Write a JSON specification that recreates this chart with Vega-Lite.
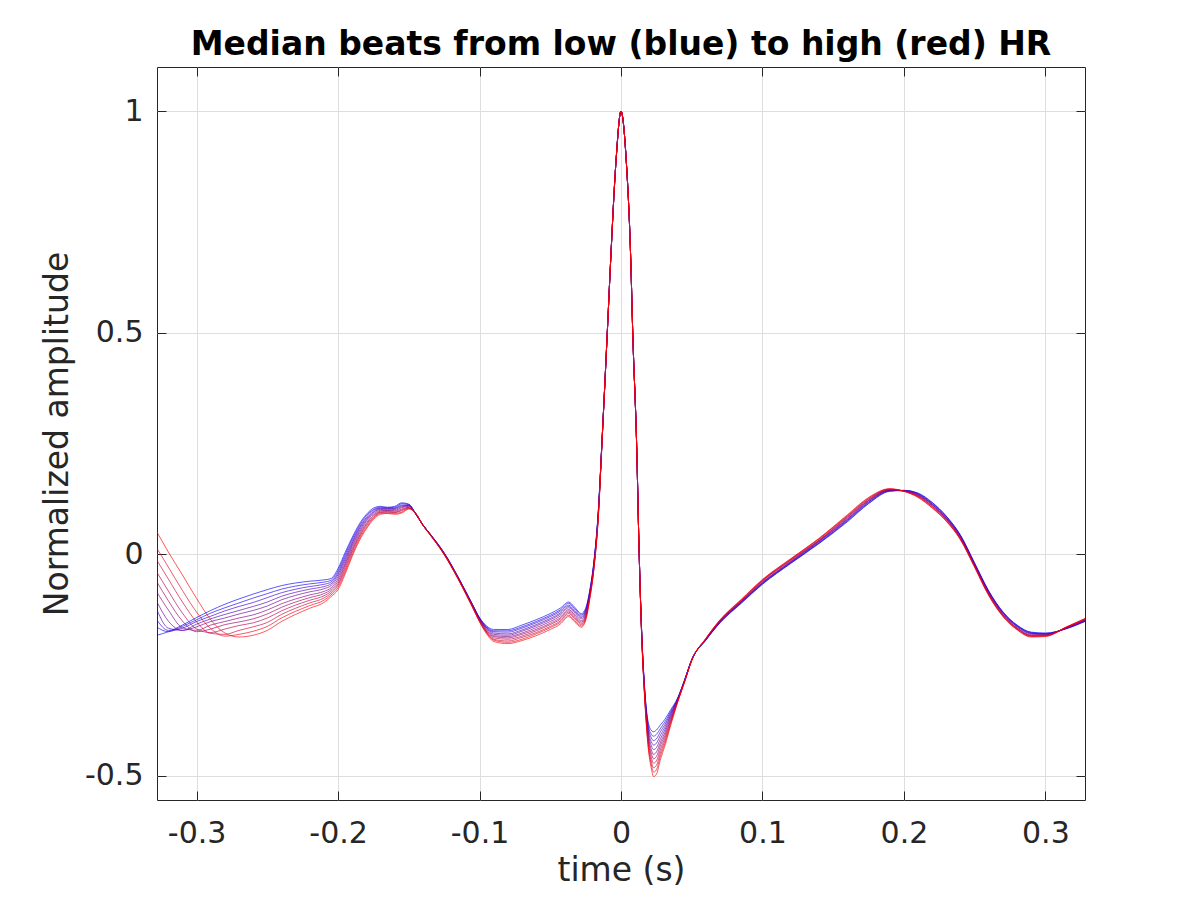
{
  "$schema": "https://vega.github.io/schema/vega-lite/v6.json",
  "width": 928,
  "height": 733,
  "autosize": {"type": "none"},
  "padding": {"left": 157, "top": 67, "right": 115, "bottom": 100},
  "background": "white",
  "title": {
    "text": "Median beats from low (blue) to high (red) HR",
    "font": "DejaVu Sans",
    "fontSize": 33,
    "fontWeight": "bold",
    "color": "#000000",
    "baseline": "alphabetic",
    "offset": 11,
    "dy": 32
  },
  "data": {
    "values": [
      {"c":0,"t":-0.328,"v":-0.183},{"c":0,"t":-0.32,"v":-0.175},{"c":0,"t":-0.31,"v":-0.160},{"c":0,"t":-0.3,"v":-0.143},{"c":0,"t":-0.29,"v":-0.127},{"c":0,"t":-0.28,"v":-0.113},{"c":0,"t":-0.27,"v":-0.101},{"c":0,"t":-0.26,"v":-0.090},{"c":0,"t":-0.25,"v":-0.080},{"c":0,"t":-0.24,"v":-0.071},{"c":0,"t":-0.23,"v":-0.065},{"c":0,"t":-0.22,"v":-0.061},{"c":0,"t":-0.21,"v":-0.058},{"c":0,"t":-0.205,"v":-0.055},
      {"c":0,"t":-0.2,"v":-0.032},{"c":0,"t":-0.195,"v":0.004},{"c":0,"t":-0.19,"v":0.038},{"c":0,"t":-0.185,"v":0.068},{"c":0,"t":-0.18,"v":0.090},{"c":0,"t":-0.175,"v":0.104},{"c":0,"t":-0.17,"v":0.108},{"c":0,"t":-0.165,"v":0.106},{"c":0,"t":-0.16,"v":0.108},{"c":0,"t":-0.155,"v":0.116},{"c":0,"t":-0.15,"v":0.113},{"c":0,"t":-0.145,"v":0.090},{"c":0,"t":-0.14,"v":0.066},
      {"c":0,"t":-0.135,"v":0.046},{"c":0,"t":-0.125,"v":0.003},{"c":0,"t":-0.115,"v":-0.052},{"c":0,"t":-0.105,"v":-0.113},{"c":0,"t":-0.1,"v":-0.143},{"c":0,"t":-0.095,"v":-0.162},{"c":0,"t":-0.09,"v":-0.170},{"c":0,"t":-0.08,"v":-0.170},
      {"c":0,"t":-0.07,"v":-0.160},{"c":0,"t":-0.06,"v":-0.148},{"c":0,"t":-0.05,"v":-0.134},{"c":0,"t":-0.043,"v":-0.122},{"c":0,"t":-0.037,"v":-0.108},{"c":0,"t":-0.033,"v":-0.119},{"c":0,"t":-0.028,"v":-0.134},{"c":0,"t":-0.025,"v":-0.122},{"c":0,"t":-0.022,"v":-0.080},{"c":0,"t":-0.019,"v":-0.012},
      {"c":0,"t":-0.016,"v":0.100},{"c":0,"t":-0.0136,"v":0.245},{"c":0,"t":-0.0097,"v":0.5},{"c":0,"t":-0.0073,"v":0.664},{"c":0,"t":-0.0035,"v":0.889},{"c":0,"t":0,"v":1},{"c":0,"t":0.0037,"v":0.889},{"c":0,"t":0.0069,"v":0.664},{"c":0,"t":0.0083,"v":0.5},{"c":0,"t":0.0111,"v":0.242},{"c":0,"t":0.0127,"v":0.02},{"c":0,"t":0.0145,"v":-0.165},{"c":0,"t":0.0165,"v":-0.292},{"c":0,"t":0.019,"v":-0.375},{"c":0,"t":0.0215,"v":-0.398},{"c":0,"t":0.023,"v":-0.401},{"c":0,"t":0.025,"v":-0.397},{"c":0,"t":0.028,"v":-0.385},{"c":0,"t":0.031,"v":-0.373},{"c":0,"t":0.035,"v":-0.352},{"c":0,"t":0.04,"v":-0.325},{"c":0,"t":0.045,"v":-0.283},
      {"c":0,"t":0.05,"v":-0.238},{"c":0,"t":0.06,"v":-0.194},{"c":0,"t":0.07,"v":-0.155},{"c":0,"t":0.085,"v":-0.111},{"c":0,"t":0.1,"v":-0.068},{"c":0,"t":0.12,"v":-0.021},{"c":0,"t":0.14,"v":0.024},{"c":0,"t":0.16,"v":0.073},{"c":0,"t":0.175,"v":0.114},{"c":0,"t":0.19,"v":0.142},{"c":0,"t":0.2,"v":0.144},{"c":0,"t":0.21,"v":0.138},{"c":0,"t":0.22,"v":0.117},{"c":0,"t":0.23,"v":0.086},{"c":0,"t":0.24,"v":0.043},{"c":0,"t":0.25,"v":-0.020},{"c":0,"t":0.26,"v":-0.083},{"c":0,"t":0.27,"v":-0.130},{"c":0,"t":0.28,"v":-0.160},{"c":0,"t":0.29,"v":-0.176},{"c":0,"t":0.3,"v":-0.178},{"c":0,"t":0.315,"v":-0.168},{"c":0,"t":0.328,"v":-0.152},

      {"c":1,"t":-0.328,"v":-0.165},{"c":1,"t":-0.32,"v":-0.175},{"c":1,"t":-0.31,"v":-0.163},{"c":1,"t":-0.3,"v":-0.148},{"c":1,"t":-0.29,"v":-0.133},{"c":1,"t":-0.28,"v":-0.121},{"c":1,"t":-0.27,"v":-0.110},{"c":1,"t":-0.26,"v":-0.099},{"c":1,"t":-0.25,"v":-0.089},{"c":1,"t":-0.24,"v":-0.079},{"c":1,"t":-0.23,"v":-0.072},{"c":1,"t":-0.22,"v":-0.067},{"c":1,"t":-0.21,"v":-0.063},{"c":1,"t":-0.205,"v":-0.059},
      {"c":1,"t":-0.2,"v":-0.037},{"c":1,"t":-0.195,"v":-0.001},{"c":1,"t":-0.19,"v":0.034},{"c":1,"t":-0.185,"v":0.064},{"c":1,"t":-0.18,"v":0.087},{"c":1,"t":-0.175,"v":0.101},{"c":1,"t":-0.17,"v":0.106},{"c":1,"t":-0.165,"v":0.105},{"c":1,"t":-0.16,"v":0.106},{"c":1,"t":-0.155,"v":0.114},{"c":1,"t":-0.15,"v":0.112},{"c":1,"t":-0.145,"v":0.090},{"c":1,"t":-0.14,"v":0.066},
      {"c":1,"t":-0.135,"v":0.046},{"c":1,"t":-0.125,"v":0.003},{"c":1,"t":-0.115,"v":-0.053},{"c":1,"t":-0.105,"v":-0.114},{"c":1,"t":-0.1,"v":-0.144},{"c":1,"t":-0.095,"v":-0.164},{"c":1,"t":-0.09,"v":-0.173},{"c":1,"t":-0.08,"v":-0.173},
      {"c":1,"t":-0.07,"v":-0.164},{"c":1,"t":-0.06,"v":-0.152},{"c":1,"t":-0.05,"v":-0.138},{"c":1,"t":-0.043,"v":-0.126},{"c":1,"t":-0.037,"v":-0.111},{"c":1,"t":-0.033,"v":-0.122},{"c":1,"t":-0.028,"v":-0.137},{"c":1,"t":-0.025,"v":-0.125},{"c":1,"t":-0.022,"v":-0.082},{"c":1,"t":-0.019,"v":-0.014},
      {"c":1,"t":-0.016,"v":0.099},{"c":1,"t":-0.0136,"v":0.245},{"c":1,"t":-0.0097,"v":0.5},{"c":1,"t":-0.0073,"v":0.664},{"c":1,"t":-0.0035,"v":0.889},{"c":1,"t":0,"v":1},{"c":1,"t":0.0037,"v":0.889},{"c":1,"t":0.0069,"v":0.664},{"c":1,"t":0.0083,"v":0.5},{"c":1,"t":0.0111,"v":0.242},{"c":1,"t":0.0127,"v":0.02},{"c":1,"t":0.0145,"v":-0.166},{"c":1,"t":0.0165,"v":-0.294},{"c":1,"t":0.019,"v":-0.381},{"c":1,"t":0.0215,"v":-0.407},{"c":1,"t":0.023,"v":-0.411},{"c":1,"t":0.025,"v":-0.407},{"c":1,"t":0.028,"v":-0.393},{"c":1,"t":0.031,"v":-0.379},{"c":1,"t":0.035,"v":-0.356},{"c":1,"t":0.04,"v":-0.326},{"c":1,"t":0.045,"v":-0.284},
      {"c":1,"t":0.05,"v":-0.238},{"c":1,"t":0.06,"v":-0.194},{"c":1,"t":0.07,"v":-0.154},{"c":1,"t":0.085,"v":-0.110},{"c":1,"t":0.1,"v":-0.067},{"c":1,"t":0.12,"v":-0.020},{"c":1,"t":0.14,"v":0.025},{"c":1,"t":0.16,"v":0.075},{"c":1,"t":0.175,"v":0.115},{"c":1,"t":0.19,"v":0.143},{"c":1,"t":0.2,"v":0.144},{"c":1,"t":0.21,"v":0.137},{"c":1,"t":0.22,"v":0.116},{"c":1,"t":0.23,"v":0.085},{"c":1,"t":0.24,"v":0.042},{"c":1,"t":0.25,"v":-0.021},{"c":1,"t":0.26,"v":-0.084},{"c":1,"t":0.27,"v":-0.131},{"c":1,"t":0.28,"v":-0.161},{"c":1,"t":0.29,"v":-0.177},{"c":1,"t":0.3,"v":-0.179},{"c":1,"t":0.315,"v":-0.168},{"c":1,"t":0.328,"v":-0.151},

      {"c":2,"t":-0.328,"v":-0.149},{"c":2,"t":-0.32,"v":-0.172},{"c":2,"t":-0.31,"v":-0.167},{"c":2,"t":-0.3,"v":-0.152},{"c":2,"t":-0.29,"v":-0.140},{"c":2,"t":-0.28,"v":-0.128},{"c":2,"t":-0.27,"v":-0.118},{"c":2,"t":-0.26,"v":-0.109},{"c":2,"t":-0.25,"v":-0.098},{"c":2,"t":-0.24,"v":-0.087},{"c":2,"t":-0.23,"v":-0.079},{"c":2,"t":-0.22,"v":-0.073},{"c":2,"t":-0.21,"v":-0.068},{"c":2,"t":-0.205,"v":-0.063},
      {"c":2,"t":-0.2,"v":-0.042},{"c":2,"t":-0.195,"v":-0.006},{"c":2,"t":-0.19,"v":0.029},{"c":2,"t":-0.185,"v":0.060},{"c":2,"t":-0.18,"v":0.083},{"c":2,"t":-0.175,"v":0.099},{"c":2,"t":-0.17,"v":0.104},{"c":2,"t":-0.165,"v":0.103},{"c":2,"t":-0.16,"v":0.104},{"c":2,"t":-0.155,"v":0.111},{"c":2,"t":-0.15,"v":0.111},{"c":2,"t":-0.145,"v":0.090},{"c":2,"t":-0.14,"v":0.066},
      {"c":2,"t":-0.135,"v":0.046},{"c":2,"t":-0.125,"v":0.002},{"c":2,"t":-0.115,"v":-0.053},{"c":2,"t":-0.105,"v":-0.114},{"c":2,"t":-0.1,"v":-0.145},{"c":2,"t":-0.095,"v":-0.166},{"c":2,"t":-0.09,"v":-0.175},{"c":2,"t":-0.08,"v":-0.176},
      {"c":2,"t":-0.07,"v":-0.167},{"c":2,"t":-0.06,"v":-0.155},{"c":2,"t":-0.05,"v":-0.141},{"c":2,"t":-0.043,"v":-0.129},{"c":2,"t":-0.037,"v":-0.115},{"c":2,"t":-0.033,"v":-0.126},{"c":2,"t":-0.028,"v":-0.140},{"c":2,"t":-0.025,"v":-0.128},{"c":2,"t":-0.022,"v":-0.084},{"c":2,"t":-0.019,"v":-0.016},
      {"c":2,"t":-0.016,"v":0.097},{"c":2,"t":-0.0136,"v":0.244},{"c":2,"t":-0.0097,"v":0.5},{"c":2,"t":-0.0073,"v":0.664},{"c":2,"t":-0.0035,"v":0.889},{"c":2,"t":0,"v":1},{"c":2,"t":0.0037,"v":0.889},{"c":2,"t":0.0069,"v":0.664},{"c":2,"t":0.0083,"v":0.5},{"c":2,"t":0.0111,"v":0.242},{"c":2,"t":0.0127,"v":0.02},{"c":2,"t":0.0145,"v":-0.167},{"c":2,"t":0.0165,"v":-0.296},{"c":2,"t":0.019,"v":-0.386},{"c":2,"t":0.0215,"v":-0.415},{"c":2,"t":0.023,"v":-0.421},{"c":2,"t":0.025,"v":-0.417},{"c":2,"t":0.028,"v":-0.400},{"c":2,"t":0.031,"v":-0.385},{"c":2,"t":0.035,"v":-0.359},{"c":2,"t":0.04,"v":-0.327},{"c":2,"t":0.045,"v":-0.284},
      {"c":2,"t":0.05,"v":-0.238},{"c":2,"t":0.06,"v":-0.193},{"c":2,"t":0.07,"v":-0.154},{"c":2,"t":0.085,"v":-0.109},{"c":2,"t":0.1,"v":-0.066},{"c":2,"t":0.12,"v":-0.019},{"c":2,"t":0.14,"v":0.026},{"c":2,"t":0.16,"v":0.076},{"c":2,"t":0.175,"v":0.117},{"c":2,"t":0.19,"v":0.143},{"c":2,"t":0.2,"v":0.144},{"c":2,"t":0.21,"v":0.136},{"c":2,"t":0.22,"v":0.114},{"c":2,"t":0.23,"v":0.084},{"c":2,"t":0.24,"v":0.041},{"c":2,"t":0.25,"v":-0.022},{"c":2,"t":0.26,"v":-0.085},{"c":2,"t":0.27,"v":-0.132},{"c":2,"t":0.28,"v":-0.162},{"c":2,"t":0.29,"v":-0.178},{"c":2,"t":0.3,"v":-0.180},{"c":2,"t":0.315,"v":-0.167},{"c":2,"t":0.328,"v":-0.151},

      {"c":3,"t":-0.328,"v":-0.126},{"c":3,"t":-0.32,"v":-0.167},{"c":3,"t":-0.31,"v":-0.172},{"c":3,"t":-0.3,"v":-0.158},{"c":3,"t":-0.29,"v":-0.146},{"c":3,"t":-0.28,"v":-0.136},{"c":3,"t":-0.27,"v":-0.127},{"c":3,"t":-0.26,"v":-0.118},{"c":3,"t":-0.25,"v":-0.108},{"c":3,"t":-0.24,"v":-0.095},{"c":3,"t":-0.23,"v":-0.086},{"c":3,"t":-0.22,"v":-0.079},{"c":3,"t":-0.21,"v":-0.073},{"c":3,"t":-0.205,"v":-0.067},
      {"c":3,"t":-0.2,"v":-0.046},{"c":3,"t":-0.195,"v":-0.011},{"c":3,"t":-0.19,"v":0.025},{"c":3,"t":-0.185,"v":0.057},{"c":3,"t":-0.18,"v":0.080},{"c":3,"t":-0.175,"v":0.096},{"c":3,"t":-0.17,"v":0.103},{"c":3,"t":-0.165,"v":0.102},{"c":3,"t":-0.16,"v":0.103},{"c":3,"t":-0.155,"v":0.109},{"c":3,"t":-0.15,"v":0.110},{"c":3,"t":-0.145,"v":0.091},{"c":3,"t":-0.14,"v":0.066},
      {"c":3,"t":-0.135,"v":0.045},{"c":3,"t":-0.125,"v":0.002},{"c":3,"t":-0.115,"v":-0.054},{"c":3,"t":-0.105,"v":-0.115},{"c":3,"t":-0.1,"v":-0.146},{"c":3,"t":-0.095,"v":-0.167},{"c":3,"t":-0.09,"v":-0.178},{"c":3,"t":-0.08,"v":-0.180},
      {"c":3,"t":-0.07,"v":-0.171},{"c":3,"t":-0.06,"v":-0.159},{"c":3,"t":-0.05,"v":-0.145},{"c":3,"t":-0.043,"v":-0.133},{"c":3,"t":-0.037,"v":-0.118},{"c":3,"t":-0.033,"v":-0.129},{"c":3,"t":-0.028,"v":-0.143},{"c":3,"t":-0.025,"v":-0.130},{"c":3,"t":-0.022,"v":-0.086},{"c":3,"t":-0.019,"v":-0.017},
      {"c":3,"t":-0.016,"v":0.096},{"c":3,"t":-0.0136,"v":0.244},{"c":3,"t":-0.0097,"v":0.5},{"c":3,"t":-0.0073,"v":0.664},{"c":3,"t":-0.0035,"v":0.889},{"c":3,"t":0,"v":1},{"c":3,"t":0.0037,"v":0.889},{"c":3,"t":0.0069,"v":0.664},{"c":3,"t":0.0083,"v":0.5},{"c":3,"t":0.0111,"v":0.242},{"c":3,"t":0.0127,"v":0.02},{"c":3,"t":0.0145,"v":-0.168},{"c":3,"t":0.0165,"v":-0.298},{"c":3,"t":0.019,"v":-0.392},{"c":3,"t":0.0215,"v":-0.424},{"c":3,"t":0.023,"v":-0.431},{"c":3,"t":0.025,"v":-0.427},{"c":3,"t":0.028,"v":-0.408},{"c":3,"t":0.031,"v":-0.391},{"c":3,"t":0.035,"v":-0.363},{"c":3,"t":0.04,"v":-0.328},{"c":3,"t":0.045,"v":-0.285},
      {"c":3,"t":0.05,"v":-0.239},{"c":3,"t":0.06,"v":-0.193},{"c":3,"t":0.07,"v":-0.153},{"c":3,"t":0.085,"v":-0.108},{"c":3,"t":0.1,"v":-0.065},{"c":3,"t":0.12,"v":-0.018},{"c":3,"t":0.14,"v":0.028},{"c":3,"t":0.16,"v":0.078},{"c":3,"t":0.175,"v":0.118},{"c":3,"t":0.19,"v":0.144},{"c":3,"t":0.2,"v":0.143},{"c":3,"t":0.21,"v":0.135},{"c":3,"t":0.22,"v":0.113},{"c":3,"t":0.23,"v":0.082},{"c":3,"t":0.24,"v":0.040},{"c":3,"t":0.25,"v":-0.023},{"c":3,"t":0.26,"v":-0.086},{"c":3,"t":0.27,"v":-0.133},{"c":3,"t":0.28,"v":-0.163},{"c":3,"t":0.29,"v":-0.179},{"c":3,"t":0.3,"v":-0.180},{"c":3,"t":0.315,"v":-0.167},{"c":3,"t":0.328,"v":-0.150},

      {"c":4,"t":-0.328,"v":-0.108},{"c":4,"t":-0.32,"v":-0.151},{"c":4,"t":-0.31,"v":-0.172},{"c":4,"t":-0.3,"v":-0.164},{"c":4,"t":-0.29,"v":-0.152},{"c":4,"t":-0.28,"v":-0.144},{"c":4,"t":-0.27,"v":-0.135},{"c":4,"t":-0.26,"v":-0.127},{"c":4,"t":-0.25,"v":-0.117},{"c":4,"t":-0.24,"v":-0.103},{"c":4,"t":-0.23,"v":-0.093},{"c":4,"t":-0.22,"v":-0.085},{"c":4,"t":-0.21,"v":-0.078},{"c":4,"t":-0.205,"v":-0.071},
      {"c":4,"t":-0.2,"v":-0.051},{"c":4,"t":-0.195,"v":-0.016},{"c":4,"t":-0.19,"v":0.021},{"c":4,"t":-0.185,"v":0.053},{"c":4,"t":-0.18,"v":0.077},{"c":4,"t":-0.175,"v":0.094},{"c":4,"t":-0.17,"v":0.101},{"c":4,"t":-0.165,"v":0.100},{"c":4,"t":-0.16,"v":0.101},{"c":4,"t":-0.155,"v":0.107},{"c":4,"t":-0.15,"v":0.109},{"c":4,"t":-0.145,"v":0.091},{"c":4,"t":-0.14,"v":0.066},
      {"c":4,"t":-0.135,"v":0.045},{"c":4,"t":-0.125,"v":0.001},{"c":4,"t":-0.115,"v":-0.054},{"c":4,"t":-0.105,"v":-0.116},{"c":4,"t":-0.1,"v":-0.147},{"c":4,"t":-0.095,"v":-0.169},{"c":4,"t":-0.09,"v":-0.181},{"c":4,"t":-0.08,"v":-0.183},
      {"c":4,"t":-0.07,"v":-0.174},{"c":4,"t":-0.06,"v":-0.162},{"c":4,"t":-0.05,"v":-0.148},{"c":4,"t":-0.043,"v":-0.136},{"c":4,"t":-0.037,"v":-0.121},{"c":4,"t":-0.033,"v":-0.132},{"c":4,"t":-0.028,"v":-0.146},{"c":4,"t":-0.025,"v":-0.133},{"c":4,"t":-0.022,"v":-0.088},{"c":4,"t":-0.019,"v":-0.019},
      {"c":4,"t":-0.016,"v":0.094},{"c":4,"t":-0.0136,"v":0.243},{"c":4,"t":-0.0097,"v":0.5},{"c":4,"t":-0.0073,"v":0.664},{"c":4,"t":-0.0035,"v":0.889},{"c":4,"t":0,"v":1},{"c":4,"t":0.0037,"v":0.889},{"c":4,"t":0.0069,"v":0.664},{"c":4,"t":0.0083,"v":0.5},{"c":4,"t":0.0111,"v":0.242},{"c":4,"t":0.0127,"v":0.02},{"c":4,"t":0.0145,"v":-0.169},{"c":4,"t":0.0165,"v":-0.300},{"c":4,"t":0.019,"v":-0.397},{"c":4,"t":0.0215,"v":-0.433},{"c":4,"t":0.023,"v":-0.441},{"c":4,"t":0.025,"v":-0.437},{"c":4,"t":0.028,"v":-0.416},{"c":4,"t":0.031,"v":-0.397},{"c":4,"t":0.035,"v":-0.366},{"c":4,"t":0.04,"v":-0.329},{"c":4,"t":0.045,"v":-0.285},
      {"c":4,"t":0.05,"v":-0.239},{"c":4,"t":0.06,"v":-0.192},{"c":4,"t":0.07,"v":-0.152},{"c":4,"t":0.085,"v":-0.107},{"c":4,"t":0.1,"v":-0.064},{"c":4,"t":0.12,"v":-0.017},{"c":4,"t":0.14,"v":0.029},{"c":4,"t":0.16,"v":0.079},{"c":4,"t":0.175,"v":0.120},{"c":4,"t":0.19,"v":0.144},{"c":4,"t":0.2,"v":0.143},{"c":4,"t":0.21,"v":0.134},{"c":4,"t":0.22,"v":0.112},{"c":4,"t":0.23,"v":0.081},{"c":4,"t":0.24,"v":0.039},{"c":4,"t":0.25,"v":-0.024},{"c":4,"t":0.26,"v":-0.087},{"c":4,"t":0.27,"v":-0.134},{"c":4,"t":0.28,"v":-0.164},{"c":4,"t":0.29,"v":-0.180},{"c":4,"t":0.3,"v":-0.181},{"c":4,"t":0.315,"v":-0.166},{"c":4,"t":0.328,"v":-0.149},

      {"c":5,"t":-0.328,"v":-0.086},{"c":5,"t":-0.32,"v":-0.126},{"c":5,"t":-0.31,"v":-0.166},{"c":5,"t":-0.3,"v":-0.172},{"c":5,"t":-0.29,"v":-0.160},{"c":5,"t":-0.28,"v":-0.152},{"c":5,"t":-0.27,"v":-0.144},{"c":5,"t":-0.26,"v":-0.137},{"c":5,"t":-0.25,"v":-0.126},{"c":5,"t":-0.24,"v":-0.112},{"c":5,"t":-0.23,"v":-0.101},{"c":5,"t":-0.22,"v":-0.092},{"c":5,"t":-0.21,"v":-0.084},{"c":5,"t":-0.205,"v":-0.076},
      {"c":5,"t":-0.2,"v":-0.056},{"c":5,"t":-0.195,"v":-0.021},{"c":5,"t":-0.19,"v":0.017},{"c":5,"t":-0.185,"v":0.049},{"c":5,"t":-0.18,"v":0.074},{"c":5,"t":-0.175,"v":0.091},{"c":5,"t":-0.17,"v":0.099},{"c":5,"t":-0.165,"v":0.099},{"c":5,"t":-0.16,"v":0.099},{"c":5,"t":-0.155,"v":0.105},{"c":5,"t":-0.15,"v":0.108},{"c":5,"t":-0.145,"v":0.091},{"c":5,"t":-0.14,"v":0.066},
      {"c":5,"t":-0.135,"v":0.045},{"c":5,"t":-0.125,"v":0.001},{"c":5,"t":-0.115,"v":-0.055},{"c":5,"t":-0.105,"v":-0.117},{"c":5,"t":-0.1,"v":-0.148},{"c":5,"t":-0.095,"v":-0.171},{"c":5,"t":-0.09,"v":-0.184},{"c":5,"t":-0.08,"v":-0.186},
      {"c":5,"t":-0.07,"v":-0.178},{"c":5,"t":-0.06,"v":-0.166},{"c":5,"t":-0.05,"v":-0.152},{"c":5,"t":-0.043,"v":-0.140},{"c":5,"t":-0.037,"v":-0.125},{"c":5,"t":-0.033,"v":-0.136},{"c":5,"t":-0.028,"v":-0.150},{"c":5,"t":-0.025,"v":-0.136},{"c":5,"t":-0.022,"v":-0.090},{"c":5,"t":-0.019,"v":-0.021},
      {"c":5,"t":-0.016,"v":0.093},{"c":5,"t":-0.0136,"v":0.243},{"c":5,"t":-0.0097,"v":0.5},{"c":5,"t":-0.0073,"v":0.664},{"c":5,"t":-0.0035,"v":0.889},{"c":5,"t":0,"v":1},{"c":5,"t":0.0037,"v":0.889},{"c":5,"t":0.0069,"v":0.664},{"c":5,"t":0.0083,"v":0.5},{"c":5,"t":0.0111,"v":0.242},{"c":5,"t":0.0127,"v":0.02},{"c":5,"t":0.0145,"v":-0.170},{"c":5,"t":0.0165,"v":-0.302},{"c":5,"t":0.019,"v":-0.403},{"c":5,"t":0.0215,"v":-0.442},{"c":5,"t":0.023,"v":-0.452},{"c":5,"t":0.025,"v":-0.447},{"c":5,"t":0.028,"v":-0.424},{"c":5,"t":0.031,"v":-0.403},{"c":5,"t":0.035,"v":-0.370},{"c":5,"t":0.04,"v":-0.330},{"c":5,"t":0.045,"v":-0.286},
      {"c":5,"t":0.05,"v":-0.239},{"c":5,"t":0.06,"v":-0.192},{"c":5,"t":0.07,"v":-0.152},{"c":5,"t":0.085,"v":-0.107},{"c":5,"t":0.1,"v":-0.063},{"c":5,"t":0.12,"v":-0.016},{"c":5,"t":0.14,"v":0.030},{"c":5,"t":0.16,"v":0.081},{"c":5,"t":0.175,"v":0.121},{"c":5,"t":0.19,"v":0.145},{"c":5,"t":0.2,"v":0.143},{"c":5,"t":0.21,"v":0.133},{"c":5,"t":0.22,"v":0.111},{"c":5,"t":0.23,"v":0.080},{"c":5,"t":0.24,"v":0.038},{"c":5,"t":0.25,"v":-0.025},{"c":5,"t":0.26,"v":-0.089},{"c":5,"t":0.27,"v":-0.136},{"c":5,"t":0.28,"v":-0.166},{"c":5,"t":0.29,"v":-0.182},{"c":5,"t":0.3,"v":-0.182},{"c":5,"t":0.315,"v":-0.166},{"c":5,"t":0.328,"v":-0.149},

      {"c":6,"t":-0.328,"v":-0.063},{"c":6,"t":-0.32,"v":-0.105},{"c":6,"t":-0.31,"v":-0.151},{"c":6,"t":-0.3,"v":-0.175},{"c":6,"t":-0.29,"v":-0.169},{"c":6,"t":-0.28,"v":-0.159},{"c":6,"t":-0.27,"v":-0.153},{"c":6,"t":-0.26,"v":-0.146},{"c":6,"t":-0.25,"v":-0.135},{"c":6,"t":-0.24,"v":-0.120},{"c":6,"t":-0.23,"v":-0.108},{"c":6,"t":-0.22,"v":-0.098},{"c":6,"t":-0.21,"v":-0.089},{"c":6,"t":-0.205,"v":-0.080},
      {"c":6,"t":-0.2,"v":-0.061},{"c":6,"t":-0.195,"v":-0.025},{"c":6,"t":-0.19,"v":0.012},{"c":6,"t":-0.185,"v":0.045},{"c":6,"t":-0.18,"v":0.070},{"c":6,"t":-0.175,"v":0.088},{"c":6,"t":-0.17,"v":0.097},{"c":6,"t":-0.165,"v":0.098},{"c":6,"t":-0.16,"v":0.097},{"c":6,"t":-0.155,"v":0.102},{"c":6,"t":-0.15,"v":0.106},{"c":6,"t":-0.145,"v":0.091},{"c":6,"t":-0.14,"v":0.065},
      {"c":6,"t":-0.135,"v":0.045},{"c":6,"t":-0.125,"v":0.001},{"c":6,"t":-0.115,"v":-0.055},{"c":6,"t":-0.105,"v":-0.117},{"c":6,"t":-0.1,"v":-0.149},{"c":6,"t":-0.095,"v":-0.173},{"c":6,"t":-0.09,"v":-0.186},{"c":6,"t":-0.08,"v":-0.189},
      {"c":6,"t":-0.07,"v":-0.181},{"c":6,"t":-0.06,"v":-0.170},{"c":6,"t":-0.05,"v":-0.156},{"c":6,"t":-0.043,"v":-0.144},{"c":6,"t":-0.037,"v":-0.128},{"c":6,"t":-0.033,"v":-0.139},{"c":6,"t":-0.028,"v":-0.153},{"c":6,"t":-0.025,"v":-0.139},{"c":6,"t":-0.022,"v":-0.092},{"c":6,"t":-0.019,"v":-0.023},
      {"c":6,"t":-0.016,"v":0.091},{"c":6,"t":-0.0136,"v":0.242},{"c":6,"t":-0.0097,"v":0.5},{"c":6,"t":-0.0073,"v":0.664},{"c":6,"t":-0.0035,"v":0.889},{"c":6,"t":0,"v":1},{"c":6,"t":0.0037,"v":0.889},{"c":6,"t":0.0069,"v":0.664},{"c":6,"t":0.0083,"v":0.5},{"c":6,"t":0.0111,"v":0.242},{"c":6,"t":0.0127,"v":0.02},{"c":6,"t":0.0145,"v":-0.171},{"c":6,"t":0.0165,"v":-0.304},{"c":6,"t":0.019,"v":-0.408},{"c":6,"t":0.0215,"v":-0.450},{"c":6,"t":0.023,"v":-0.462},{"c":6,"t":0.025,"v":-0.457},{"c":6,"t":0.028,"v":-0.431},{"c":6,"t":0.031,"v":-0.409},{"c":6,"t":0.035,"v":-0.374},{"c":6,"t":0.04,"v":-0.331},{"c":6,"t":0.045,"v":-0.286},
      {"c":6,"t":0.05,"v":-0.239},{"c":6,"t":0.06,"v":-0.192},{"c":6,"t":0.07,"v":-0.151},{"c":6,"t":0.085,"v":-0.106},{"c":6,"t":0.1,"v":-0.061},{"c":6,"t":0.12,"v":-0.014},{"c":6,"t":0.14,"v":0.031},{"c":6,"t":0.16,"v":0.083},{"c":6,"t":0.175,"v":0.122},{"c":6,"t":0.19,"v":0.146},{"c":6,"t":0.2,"v":0.143},{"c":6,"t":0.21,"v":0.132},{"c":6,"t":0.22,"v":0.109},{"c":6,"t":0.23,"v":0.079},{"c":6,"t":0.24,"v":0.036},{"c":6,"t":0.25,"v":-0.026},{"c":6,"t":0.26,"v":-0.090},{"c":6,"t":0.27,"v":-0.137},{"c":6,"t":0.28,"v":-0.167},{"c":6,"t":0.29,"v":-0.183},{"c":6,"t":0.3,"v":-0.183},{"c":6,"t":0.315,"v":-0.166},{"c":6,"t":0.328,"v":-0.148},

      {"c":7,"t":-0.328,"v":-0.041},{"c":7,"t":-0.32,"v":-0.083},{"c":7,"t":-0.31,"v":-0.133},{"c":7,"t":-0.3,"v":-0.169},{"c":7,"t":-0.29,"v":-0.177},{"c":7,"t":-0.28,"v":-0.169},{"c":7,"t":-0.27,"v":-0.161},{"c":7,"t":-0.26,"v":-0.155},{"c":7,"t":-0.25,"v":-0.144},{"c":7,"t":-0.24,"v":-0.128},{"c":7,"t":-0.23,"v":-0.115},{"c":7,"t":-0.22,"v":-0.104},{"c":7,"t":-0.21,"v":-0.094},{"c":7,"t":-0.205,"v":-0.084},
      {"c":7,"t":-0.2,"v":-0.066},{"c":7,"t":-0.195,"v":-0.030},{"c":7,"t":-0.19,"v":0.008},{"c":7,"t":-0.185,"v":0.041},{"c":7,"t":-0.18,"v":0.067},{"c":7,"t":-0.175,"v":0.086},{"c":7,"t":-0.17,"v":0.095},{"c":7,"t":-0.165,"v":0.096},{"c":7,"t":-0.16,"v":0.095},{"c":7,"t":-0.155,"v":0.100},{"c":7,"t":-0.15,"v":0.105},{"c":7,"t":-0.145,"v":0.091},{"c":7,"t":-0.14,"v":0.065},
      {"c":7,"t":-0.135,"v":0.045},{"c":7,"t":-0.125,"v":0.000},{"c":7,"t":-0.115,"v":-0.056},{"c":7,"t":-0.105,"v":-0.118},{"c":7,"t":-0.1,"v":-0.150},{"c":7,"t":-0.095,"v":-0.175},{"c":7,"t":-0.09,"v":-0.189},{"c":7,"t":-0.08,"v":-0.192},
      {"c":7,"t":-0.07,"v":-0.185},{"c":7,"t":-0.06,"v":-0.173},{"c":7,"t":-0.05,"v":-0.159},{"c":7,"t":-0.043,"v":-0.147},{"c":7,"t":-0.037,"v":-0.131},{"c":7,"t":-0.033,"v":-0.142},{"c":7,"t":-0.028,"v":-0.156},{"c":7,"t":-0.025,"v":-0.142},{"c":7,"t":-0.022,"v":-0.094},{"c":7,"t":-0.019,"v":-0.025},
      {"c":7,"t":-0.016,"v":0.090},{"c":7,"t":-0.0136,"v":0.242},{"c":7,"t":-0.0097,"v":0.5},{"c":7,"t":-0.0073,"v":0.664},{"c":7,"t":-0.0035,"v":0.889},{"c":7,"t":0,"v":1},{"c":7,"t":0.0037,"v":0.889},{"c":7,"t":0.0069,"v":0.664},{"c":7,"t":0.0083,"v":0.5},{"c":7,"t":0.0111,"v":0.242},{"c":7,"t":0.0127,"v":0.02},{"c":7,"t":0.0145,"v":-0.172},{"c":7,"t":0.0165,"v":-0.306},{"c":7,"t":0.019,"v":-0.414},{"c":7,"t":0.0215,"v":-0.459},{"c":7,"t":0.023,"v":-0.472},{"c":7,"t":0.025,"v":-0.467},{"c":7,"t":0.028,"v":-0.439},{"c":7,"t":0.031,"v":-0.415},{"c":7,"t":0.035,"v":-0.377},{"c":7,"t":0.04,"v":-0.332},{"c":7,"t":0.045,"v":-0.287},
      {"c":7,"t":0.05,"v":-0.239},{"c":7,"t":0.06,"v":-0.191},{"c":7,"t":0.07,"v":-0.150},{"c":7,"t":0.085,"v":-0.105},{"c":7,"t":0.1,"v":-0.060},{"c":7,"t":0.12,"v":-0.013},{"c":7,"t":0.14,"v":0.032},{"c":7,"t":0.16,"v":0.084},{"c":7,"t":0.175,"v":0.124},{"c":7,"t":0.19,"v":0.146},{"c":7,"t":0.2,"v":0.143},{"c":7,"t":0.21,"v":0.131},{"c":7,"t":0.22,"v":0.108},{"c":7,"t":0.23,"v":0.078},{"c":7,"t":0.24,"v":0.035},{"c":7,"t":0.25,"v":-0.027},{"c":7,"t":0.26,"v":-0.091},{"c":7,"t":0.27,"v":-0.138},{"c":7,"t":0.28,"v":-0.168},{"c":7,"t":0.29,"v":-0.184},{"c":7,"t":0.3,"v":-0.184},{"c":7,"t":0.315,"v":-0.165},{"c":7,"t":0.328,"v":-0.147},

      {"c":8,"t":-0.328,"v":-0.014},{"c":8,"t":-0.32,"v":-0.056},{"c":8,"t":-0.31,"v":-0.108},{"c":8,"t":-0.3,"v":-0.153},{"c":8,"t":-0.29,"v":-0.179},{"c":8,"t":-0.28,"v":-0.181},{"c":8,"t":-0.27,"v":-0.172},{"c":8,"t":-0.26,"v":-0.164},{"c":8,"t":-0.25,"v":-0.154},{"c":8,"t":-0.24,"v":-0.136},{"c":8,"t":-0.23,"v":-0.122},{"c":8,"t":-0.22,"v":-0.110},{"c":8,"t":-0.21,"v":-0.099},{"c":8,"t":-0.205,"v":-0.088},
      {"c":8,"t":-0.2,"v":-0.070},{"c":8,"t":-0.195,"v":-0.035},{"c":8,"t":-0.19,"v":0.004},{"c":8,"t":-0.185,"v":0.038},{"c":8,"t":-0.18,"v":0.064},{"c":8,"t":-0.175,"v":0.083},{"c":8,"t":-0.17,"v":0.094},{"c":8,"t":-0.165,"v":0.095},{"c":8,"t":-0.16,"v":0.094},{"c":8,"t":-0.155,"v":0.098},{"c":8,"t":-0.15,"v":0.104},{"c":8,"t":-0.145,"v":0.092},{"c":8,"t":-0.14,"v":0.065},
      {"c":8,"t":-0.135,"v":0.044},{"c":8,"t":-0.125,"v":0.000},{"c":8,"t":-0.115,"v":-0.056},{"c":8,"t":-0.105,"v":-0.119},{"c":8,"t":-0.1,"v":-0.151},{"c":8,"t":-0.095,"v":-0.176},{"c":8,"t":-0.09,"v":-0.192},{"c":8,"t":-0.08,"v":-0.196},
      {"c":8,"t":-0.07,"v":-0.188},{"c":8,"t":-0.06,"v":-0.177},{"c":8,"t":-0.05,"v":-0.163},{"c":8,"t":-0.043,"v":-0.151},{"c":8,"t":-0.037,"v":-0.134},{"c":8,"t":-0.033,"v":-0.145},{"c":8,"t":-0.028,"v":-0.159},{"c":8,"t":-0.025,"v":-0.144},{"c":8,"t":-0.022,"v":-0.096},{"c":8,"t":-0.019,"v":-0.026},
      {"c":8,"t":-0.016,"v":0.088},{"c":8,"t":-0.0136,"v":0.241},{"c":8,"t":-0.0097,"v":0.5},{"c":8,"t":-0.0073,"v":0.664},{"c":8,"t":-0.0035,"v":0.889},{"c":8,"t":0,"v":1},{"c":8,"t":0.0037,"v":0.889},{"c":8,"t":0.0069,"v":0.664},{"c":8,"t":0.0083,"v":0.5},{"c":8,"t":0.0111,"v":0.242},{"c":8,"t":0.0127,"v":0.02},{"c":8,"t":0.0145,"v":-0.173},{"c":8,"t":0.0165,"v":-0.308},{"c":8,"t":0.019,"v":-0.419},{"c":8,"t":0.0215,"v":-0.468},{"c":8,"t":0.023,"v":-0.482},{"c":8,"t":0.025,"v":-0.477},{"c":8,"t":0.028,"v":-0.447},{"c":8,"t":0.031,"v":-0.421},{"c":8,"t":0.035,"v":-0.381},{"c":8,"t":0.04,"v":-0.333},{"c":8,"t":0.045,"v":-0.287},
      {"c":8,"t":0.05,"v":-0.240},{"c":8,"t":0.06,"v":-0.191},{"c":8,"t":0.07,"v":-0.149},{"c":8,"t":0.085,"v":-0.104},{"c":8,"t":0.1,"v":-0.059},{"c":8,"t":0.12,"v":-0.012},{"c":8,"t":0.14,"v":0.034},{"c":8,"t":0.16,"v":0.086},{"c":8,"t":0.175,"v":0.125},{"c":8,"t":0.19,"v":0.147},{"c":8,"t":0.2,"v":0.142},{"c":8,"t":0.21,"v":0.130},{"c":8,"t":0.22,"v":0.107},{"c":8,"t":0.23,"v":0.076},{"c":8,"t":0.24,"v":0.034},{"c":8,"t":0.25,"v":-0.028},{"c":8,"t":0.26,"v":-0.092},{"c":8,"t":0.27,"v":-0.139},{"c":8,"t":0.28,"v":-0.169},{"c":8,"t":0.29,"v":-0.185},{"c":8,"t":0.3,"v":-0.184},{"c":8,"t":0.315,"v":-0.165},{"c":8,"t":0.328,"v":-0.146},

      {"c":9,"t":-0.328,"v":0.013},{"c":9,"t":-0.32,"v":-0.029},{"c":9,"t":-0.31,"v":-0.082},{"c":9,"t":-0.3,"v":-0.131},{"c":9,"t":-0.29,"v":-0.168},{"c":9,"t":-0.28,"v":-0.185},{"c":9,"t":-0.27,"v":-0.181},{"c":9,"t":-0.26,"v":-0.174},{"c":9,"t":-0.25,"v":-0.163},{"c":9,"t":-0.24,"v":-0.144},{"c":9,"t":-0.23,"v":-0.129},{"c":9,"t":-0.22,"v":-0.116},{"c":9,"t":-0.21,"v":-0.104},{"c":9,"t":-0.205,"v":-0.092},
      {"c":9,"t":-0.2,"v":-0.075},{"c":9,"t":-0.195,"v":-0.040},{"c":9,"t":-0.19,"v":-0.001},{"c":9,"t":-0.185,"v":0.034},{"c":9,"t":-0.18,"v":0.060},{"c":9,"t":-0.175,"v":0.081},{"c":9,"t":-0.17,"v":0.092},{"c":9,"t":-0.165,"v":0.093},{"c":9,"t":-0.16,"v":0.092},{"c":9,"t":-0.155,"v":0.095},{"c":9,"t":-0.15,"v":0.103},{"c":9,"t":-0.145,"v":0.092},{"c":9,"t":-0.14,"v":0.065},
      {"c":9,"t":-0.135,"v":0.044},{"c":9,"t":-0.125,"v":-0.001},{"c":9,"t":-0.115,"v":-0.057},{"c":9,"t":-0.105,"v":-0.119},{"c":9,"t":-0.1,"v":-0.152},{"c":9,"t":-0.095,"v":-0.178},{"c":9,"t":-0.09,"v":-0.194},{"c":9,"t":-0.08,"v":-0.199},
      {"c":9,"t":-0.07,"v":-0.192},{"c":9,"t":-0.06,"v":-0.180},{"c":9,"t":-0.05,"v":-0.166},{"c":9,"t":-0.043,"v":-0.154},{"c":9,"t":-0.037,"v":-0.138},{"c":9,"t":-0.033,"v":-0.149},{"c":9,"t":-0.028,"v":-0.162},{"c":9,"t":-0.025,"v":-0.147},{"c":9,"t":-0.022,"v":-0.098},{"c":9,"t":-0.019,"v":-0.028},
      {"c":9,"t":-0.016,"v":0.087},{"c":9,"t":-0.0136,"v":0.241},{"c":9,"t":-0.0097,"v":0.5},{"c":9,"t":-0.0073,"v":0.664},{"c":9,"t":-0.0035,"v":0.889},{"c":9,"t":0,"v":1},{"c":9,"t":0.0037,"v":0.889},{"c":9,"t":0.0069,"v":0.664},{"c":9,"t":0.0083,"v":0.5},{"c":9,"t":0.0111,"v":0.242},{"c":9,"t":0.0127,"v":0.02},{"c":9,"t":0.0145,"v":-0.174},{"c":9,"t":0.0165,"v":-0.310},{"c":9,"t":0.019,"v":-0.425},{"c":9,"t":0.0215,"v":-0.476},{"c":9,"t":0.023,"v":-0.492},{"c":9,"t":0.025,"v":-0.487},{"c":9,"t":0.028,"v":-0.454},{"c":9,"t":0.031,"v":-0.427},{"c":9,"t":0.035,"v":-0.384},{"c":9,"t":0.04,"v":-0.334},{"c":9,"t":0.045,"v":-0.288},
      {"c":9,"t":0.05,"v":-0.240},{"c":9,"t":0.06,"v":-0.190},{"c":9,"t":0.07,"v":-0.149},{"c":9,"t":0.085,"v":-0.103},{"c":9,"t":0.1,"v":-0.058},{"c":9,"t":0.12,"v":-0.011},{"c":9,"t":0.14,"v":0.035},{"c":9,"t":0.16,"v":0.087},{"c":9,"t":0.175,"v":0.127},{"c":9,"t":0.19,"v":0.147},{"c":9,"t":0.2,"v":0.142},{"c":9,"t":0.21,"v":0.129},{"c":9,"t":0.22,"v":0.105},{"c":9,"t":0.23,"v":0.075},{"c":9,"t":0.24,"v":0.033},{"c":9,"t":0.25,"v":-0.029},{"c":9,"t":0.26,"v":-0.093},{"c":9,"t":0.27,"v":-0.140},{"c":9,"t":0.28,"v":-0.170},{"c":9,"t":0.29,"v":-0.186},{"c":9,"t":0.3,"v":-0.185},{"c":9,"t":0.315,"v":-0.164},{"c":9,"t":0.328,"v":-0.146},

      {"c":10,"t":-0.328,"v":0.050},{"c":10,"t":-0.32,"v":0.005},{"c":10,"t":-0.31,"v":-0.047},{"c":10,"t":-0.3,"v":-0.100},{"c":10,"t":-0.29,"v":-0.148},{"c":10,"t":-0.28,"v":-0.178},{"c":10,"t":-0.27,"v":-0.187},{"c":10,"t":-0.26,"v":-0.183},{"c":10,"t":-0.25,"v":-0.172},{"c":10,"t":-0.24,"v":-0.152},{"c":10,"t":-0.23,"v":-0.136},{"c":10,"t":-0.22,"v":-0.122},{"c":10,"t":-0.21,"v":-0.109},{"c":10,"t":-0.205,"v":-0.096},
      {"c":10,"t":-0.2,"v":-0.080},{"c":10,"t":-0.195,"v":-0.045},{"c":10,"t":-0.19,"v":-0.005},{"c":10,"t":-0.185,"v":0.030},{"c":10,"t":-0.18,"v":0.057},{"c":10,"t":-0.175,"v":0.078},{"c":10,"t":-0.17,"v":0.090},{"c":10,"t":-0.165,"v":0.092},{"c":10,"t":-0.16,"v":0.090},{"c":10,"t":-0.155,"v":0.093},{"c":10,"t":-0.15,"v":0.102},{"c":10,"t":-0.145,"v":0.092},{"c":10,"t":-0.14,"v":0.065},
      {"c":10,"t":-0.135,"v":0.044},{"c":10,"t":-0.125,"v":-0.001},{"c":10,"t":-0.115,"v":-0.057},{"c":10,"t":-0.105,"v":-0.120},{"c":10,"t":-0.1,"v":-0.153},{"c":10,"t":-0.095,"v":-0.180},{"c":10,"t":-0.09,"v":-0.197},{"c":10,"t":-0.08,"v":-0.202},
      {"c":10,"t":-0.07,"v":-0.195},{"c":10,"t":-0.06,"v":-0.184},{"c":10,"t":-0.05,"v":-0.170},{"c":10,"t":-0.043,"v":-0.158},{"c":10,"t":-0.037,"v":-0.141},{"c":10,"t":-0.033,"v":-0.152},{"c":10,"t":-0.028,"v":-0.165},{"c":10,"t":-0.025,"v":-0.150},{"c":10,"t":-0.022,"v":-0.100},{"c":10,"t":-0.019,"v":-0.030},
      {"c":10,"t":-0.016,"v":0.085},{"c":10,"t":-0.0136,"v":0.240},{"c":10,"t":-0.0097,"v":0.5},{"c":10,"t":-0.0073,"v":0.664},{"c":10,"t":-0.0035,"v":0.889},{"c":10,"t":0,"v":1},{"c":10,"t":0.0037,"v":0.889},{"c":10,"t":0.0069,"v":0.664},{"c":10,"t":0.0083,"v":0.5},{"c":10,"t":0.0111,"v":0.242},{"c":10,"t":0.0127,"v":0.02},{"c":10,"t":0.0145,"v":-0.175},{"c":10,"t":0.0165,"v":-0.312},{"c":10,"t":0.019,"v":-0.430},{"c":10,"t":0.0215,"v":-0.485},{"c":10,"t":0.023,"v":-0.502},{"c":10,"t":0.025,"v":-0.497},{"c":10,"t":0.028,"v":-0.462},{"c":10,"t":0.031,"v":-0.433},{"c":10,"t":0.035,"v":-0.388},{"c":10,"t":0.04,"v":-0.335},{"c":10,"t":0.045,"v":-0.288},
      {"c":10,"t":0.05,"v":-0.240},{"c":10,"t":0.06,"v":-0.190},{"c":10,"t":0.07,"v":-0.148},{"c":10,"t":0.085,"v":-0.102},{"c":10,"t":0.1,"v":-0.057},{"c":10,"t":0.12,"v":-0.010},{"c":10,"t":0.14,"v":0.036},{"c":10,"t":0.16,"v":0.089},{"c":10,"t":0.175,"v":0.128},{"c":10,"t":0.19,"v":0.148},{"c":10,"t":0.2,"v":0.142},{"c":10,"t":0.21,"v":0.128},{"c":10,"t":0.22,"v":0.104},{"c":10,"t":0.23,"v":0.074},{"c":10,"t":0.24,"v":0.032},{"c":10,"t":0.25,"v":-0.030},{"c":10,"t":0.26,"v":-0.094},{"c":10,"t":0.27,"v":-0.141},{"c":10,"t":0.28,"v":-0.171},{"c":10,"t":0.29,"v":-0.187},{"c":10,"t":0.3,"v":-0.186},{"c":10,"t":0.315,"v":-0.164},{"c":10,"t":0.328,"v":-0.145}
    ]
  },
  "layer": [
    {
      "mark": {"type": "line", "strokeWidth": 1, "opacity": 0.65, "interpolate": "monotone", "clip": true},
      "encoding": {
        "x": {
          "field": "t",
          "type": "quantitative",
          "scale": {"domain": [-0.328, 0.328], "nice": false, "zero": false},
          "axis": {
            "orient": "bottom",
            "values": [-0.3, -0.2, -0.1, 0, 0.1, 0.2, 0.3],
            "format": "~g",
            "labelExpr": "replace(datum.label, '\u2212', '-')",
            "title": "time (s)",
            "grid": true,
            "domain": false,
            "tickSize": -9,
            "labelPadding": 27,
            "titlePadding": 6
          }
        },
        "y": {
          "field": "v",
          "type": "quantitative",
          "scale": {"domain": [-0.555, 1.1], "nice": false, "zero": false},
          "axis": {
            "orient": "left",
            "values": [-0.5, 0, 0.5, 1],
            "format": "~g",
            "labelExpr": "replace(datum.label, '\u2212', '-')",
            "title": "Normalized amplitude",
            "grid": true,
            "domain": false,
            "tickSize": -9,
            "labelPadding": 23,
            "titlePadding": 10
          }
        },
        "color": {
          "field": "c",
          "type": "quantitative",
          "scale": {"domain": [0, 10], "range": ["#0000ff", "#ff0000"], "interpolate": "rgb"},
          "legend": null
        },
        "detail": {"field": "c", "type": "nominal"}
      }
    },
    {
      "mark": {"type": "point", "opacity": 0},
      "encoding": {
        "x": {
          "field": "t",
          "type": "quantitative",
          "axis": {
            "orient": "top",
            "values": [-0.3, -0.2, -0.1, 0, 0.1, 0.2, 0.3],
            "labels": false,
            "title": null,
            "grid": false,
            "domain": false,
            "tickSize": -9
          }
        },
        "y": {
          "field": "v",
          "type": "quantitative",
          "axis": {
            "orient": "right",
            "values": [-0.5, 0, 0.5, 1],
            "labels": false,
            "title": null,
            "grid": false,
            "domain": false,
            "tickSize": -9
          }
        }
      }
    }
  ],
  "resolve": {"axis": {"x": "independent", "y": "independent"}},
  "config": {
    "font": "DejaVu Sans",
    "view": {"stroke": "#262626", "strokeWidth": 1},
    "axis": {
      "labelFont": "DejaVu Sans",
      "labelFontSize": 30,
      "labelColor": "#262626",
      "titleFont": "DejaVu Sans",
      "titleFontSize": 33,
      "titleFontWeight": "normal",
      "titleColor": "#262626",
      "tickColor": "#262626",
      "tickWidth": 1,
      "gridColor": "#dedede",
      "gridWidth": 1,
      "labelFlush": false,
      "labelOverlap": false
    }
  }
}
